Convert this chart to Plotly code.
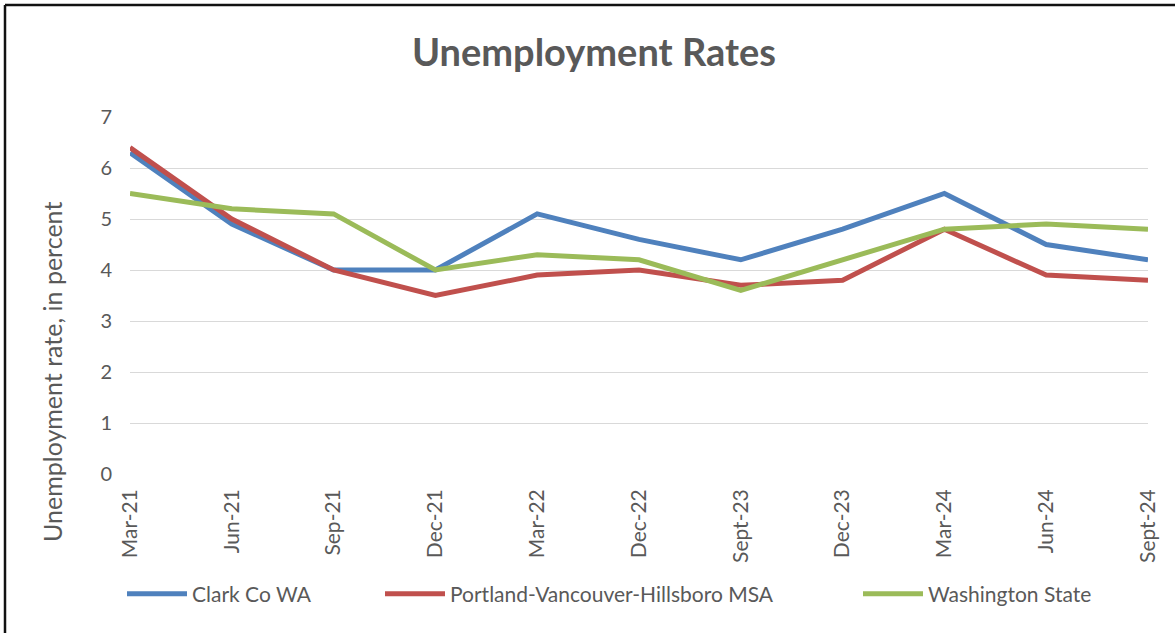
import plotly.graph_objects as go

# Quarterly periods on the category axis
periods = ["Mar-21", "Jun-21", "Sep-21", "Dec-21", "Mar-22", "Dec-22",
           "Sept-23", "Dec-23", "Mar-24", "Jun-24", "Sept-24"]

# Unemployment rates, in percent
clark_co_wa = [6.3, 4.9, 4.0, 4.0, 5.1, 4.6, 4.2, 4.8, 5.5, 4.5, 4.2]
portland_msa = [6.4, 5.0, 4.0, 3.5, 3.9, 4.0, 3.7, 3.8, 4.8, 3.9, 3.8]
washington_state = [5.5, 5.2, 5.1, 4.0, 4.3, 4.2, 3.6, 4.2, 4.8, 4.9, 4.8]

series_names = ["Clark Co WA", "Portland-Vancouver-Hillsboro MSA", "Washington State"]
series_colors = ["#4F81BD", "#C0504D", "#9BBB59"]

W, H = 1175, 633
L, R, T, B = 130, 27, 117, 159
plot_w = W - L - R
plot_h = H - T - B


def px_to_paper_x(px):
    return (px - L) / plot_w


def px_to_paper_y(py):
    return (H - B - py) / plot_h


TEXT = "#595959"
FONT = "Lato"

fig = go.Figure()
legend_ids = ["legend", "legend2", "legend3"]
for name, vals, color, lg in zip(series_names,
                                 [clark_co_wa, portland_msa, washington_state],
                                 series_colors, legend_ids):
    fig.add_trace(go.Scatter(
        x=periods, y=vals, name=name, mode="lines",
        line=dict(color=color, width=5),
        legend=lg,
    ))

legend_common = dict(
    orientation="h", yanchor="middle", xanchor="left",
    font=dict(family=FONT, size=21, color=TEXT),
    bgcolor="rgba(0,0,0,0)", itemwidth=60,
)
legend_x_px = [122, 380, 858]
legend_y = px_to_paper_y(594)

fig.update_layout(
    width=W, height=H,
    margin=dict(l=L, r=R, t=T, b=B),
    paper_bgcolor="white", plot_bgcolor="white",
    font=dict(family=FONT, color=TEXT),
    title=dict(
        text="<b>Unemployment Rates</b>",
        font=dict(family=FONT, size=38, color=TEXT),
        x=594 / W, xanchor="center", xref="container",
        y=1 - 53 / H, yanchor="middle", yref="container",
    ),
    xaxis=dict(
        type="category", range=[0, len(periods) - 1],
        showgrid=False, showline=False, zeroline=False,
        tickangle=-90, ticks="",
        tickfont=dict(family=FONT, size=21, color=TEXT),
        ticklabelstandoff=10,
    ),
    yaxis=dict(
        range=[0, 7], dtick=1, tick0=0,
        showgrid=True, gridcolor="#D9D9D9", gridwidth=1,
        zeroline=False, showline=False, ticks="",
        tickfont=dict(family=FONT, size=20, color=TEXT),
        ticklabelstandoff=17,
    ),
    legend=dict(x=px_to_paper_x(legend_x_px[0]), y=legend_y, **legend_common),
    legend2=dict(x=px_to_paper_x(legend_x_px[1]), y=legend_y, **legend_common),
    legend3=dict(x=px_to_paper_x(legend_x_px[2]), y=legend_y, **legend_common),
    showlegend=True,
)

# Vertical axis title, centred over the axis and its tick labels
fig.add_annotation(
    text="Unemployment rate, in percent",
    xref="paper", yref="paper",
    x=px_to_paper_x(52), y=px_to_paper_y(372),
    textangle=-90, showarrow=False,
    font=dict(family=FONT, size=25, color=TEXT),
    xanchor="center", yanchor="middle",
)

# Chart frame (top and left edges)
fig.add_shape(type="line", xref="paper", yref="paper",
              x0=px_to_paper_x(5), x1=px_to_paper_x(W + 5),
              y0=px_to_paper_y(5), y1=px_to_paper_y(5),
              line=dict(color="#111111", width=2.5))
fig.add_shape(type="line", xref="paper", yref="paper",
              x0=px_to_paper_x(5), x1=px_to_paper_x(5),
              y0=px_to_paper_y(5), y1=px_to_paper_y(H + 5),
              line=dict(color="#111111", width=2.5))

fig.write_html("out.html")
